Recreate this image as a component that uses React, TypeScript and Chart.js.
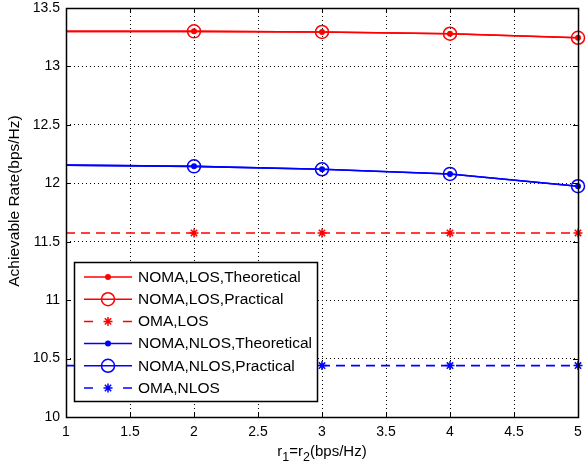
import React, { useEffect, useRef } from "react";
import { Chart, registerables } from "chart.js";
Chart.register(...registerables);

const xValues = [1, 2, 3, 4, 5];
const nomaLosTheoretical = [13.3, 13.3, 13.295, 13.28, 13.245];
const nomaLosPractical = [13.3, 13.3, 13.295, 13.28, 13.245];
const omaLos = [11.575, 11.575, 11.575, 11.575, 11.575];
const nomaNlosTheoretical = [12.155, 12.145, 12.12, 12.08, 11.975];
const nomaNlosPractical = [12.155, 12.145, 12.12, 12.08, 11.975];
const omaNlos = [10.44, 10.44, 10.44, 10.44, 10.44];
const seriesLabels = [
  "NOMA,LOS,Theoretical",
  "NOMA,LOS,Practical",
  "OMA,LOS",
  "NOMA,NLOS,Theoretical",
  "NOMA,NLOS,Practical",
  "OMA,NLOS",
];
const xTickValues = [1, 1.5, 2, 2.5, 3, 3.5, 4, 4.5, 5];
const yTickValues = [10, 10.5, 11, 11.5, 12, 12.5, 13, 13.5];
const yAxisTitle = "Achievable Rate(bps/Hz)";

const FONT = '"Liberation Sans", Arial, Helvetica, sans-serif';
const RED = "#ff0000";
const BLUE = "#0000ff";

type Kind = "dot" | "circle" | "star";
const seriesKinds: Kind[] = ["dot", "circle", "star", "dot", "circle", "star"];
const seriesColors = [RED, RED, RED, BLUE, BLUE, BLUE];
const seriesDashed = [false, false, true, false, false, true];

function drawMarker(ctx: CanvasRenderingContext2D, kind: Kind, x: number, y: number, color: string) {
  ctx.save();
  ctx.setLineDash([]);
  ctx.strokeStyle = color;
  ctx.fillStyle = color;
  if (kind === "dot") {
    ctx.beginPath();
    ctx.arc(x, y, 3, 0, Math.PI * 2);
    ctx.fill();
  } else if (kind === "circle") {
    ctx.lineWidth = 1.5;
    ctx.beginPath();
    ctx.arc(x, y, 6.5, 0, Math.PI * 2);
    ctx.stroke();
  } else {
    ctx.lineWidth = 1.5;
    const r = 4.5;
    const d = r * Math.SQRT1_2;
    ctx.beginPath();
    ctx.moveTo(x - r, y);
    ctx.lineTo(x + r, y);
    ctx.moveTo(x, y - r);
    ctx.lineTo(x, y + r);
    ctx.moveTo(x - d, y - d);
    ctx.lineTo(x + d, y + d);
    ctx.moveTo(x - d, y + d);
    ctx.lineTo(x + d, y - d);
    ctx.stroke();
  }
  ctx.restore();
}

const framePlugin = {
  id: "matlabFrame",
  afterDraw(chart: any) {
    const ctx: CanvasRenderingContext2D = chart.ctx;
    const { left, right, top, bottom } = chart.chartArea;
    const xs = chart.scales.x;
    const ys = chart.scales.y;
    ctx.save();
    ctx.setLineDash([]);
    ctx.strokeStyle = "#000";
    ctx.lineWidth = 1;
    ctx.beginPath();
    for (const v of xTickValues) {
      const px = Math.round(xs.getPixelForValue(v)) + 0.5;
      ctx.moveTo(px, bottom);
      ctx.lineTo(px, bottom - 5);
      ctx.moveTo(px, top);
      ctx.lineTo(px, top + 5);
    }
    for (const v of yTickValues) {
      const py = Math.round(ys.getPixelForValue(v)) + 0.5;
      ctx.moveTo(left, py);
      ctx.lineTo(left + 5, py);
      ctx.moveTo(right, py);
      ctx.lineTo(right - 5, py);
    }
    ctx.stroke();
    ctx.lineWidth = 1.5;
    ctx.strokeRect(Math.round(left) + 0.5, Math.round(top) + 0.5, Math.round(right - left), Math.round(bottom - top));

    // legend
    const lx = 74.5, ly = 262.5, lw = 243, lh = 139;
    ctx.fillStyle = "#fff";
    ctx.fillRect(lx, ly, lw, lh);
    ctx.lineWidth = 1.5;
    ctx.strokeStyle = "#000";
    ctx.strokeRect(lx, ly, lw, lh);
    ctx.font = `15.5px ${FONT}`;
    ctx.textBaseline = "middle";
    ctx.textAlign = "left";
    for (let i = 0; i < seriesLabels.length; i++) {
      const cy = 277 + i * 22.2;
      const color = seriesColors[i];
      ctx.strokeStyle = color;
      ctx.lineWidth = 1.5;
      ctx.beginPath();
      if (seriesDashed[i]) {
        ctx.moveTo(84, cy);
        ctx.lineTo(93, cy);
        ctx.moveTo(123, cy);
        ctx.lineTo(132, cy);
      } else {
        ctx.moveTo(84, cy);
        ctx.lineTo(132, cy);
      }
      ctx.stroke();
      drawMarker(ctx, seriesKinds[i], 108, cy, color);
      ctx.fillStyle = "#000";
      ctx.fillText(seriesLabels[i], 138, cy + 0.5);
    }

    // y title
    ctx.save();
    ctx.translate(15, 201);
    ctx.rotate(-Math.PI / 2);
    ctx.textAlign = "center";
    ctx.textBaseline = "middle";
    ctx.fillStyle = "#000";
    ctx.font = `15.5px ${FONT}`;
    ctx.fillText(yAxisTitle, 0, 0);
    ctx.restore();

    // x title with subscripts
    const parts: [string, boolean][] = [["r", false], ["1", true], ["=r", false], ["2", true], ["(bps/Hz)", false]];
    const mainFont = `15px ${FONT}`;
    const subFont = `12.5px ${FONT}`;
    let total = 0;
    for (const [t, sub] of parts) {
      ctx.font = sub ? subFont : mainFont;
      total += ctx.measureText(t).width;
    }
    let cx = (left + right) / 2 - total / 2;
    ctx.textAlign = "left";
    ctx.textBaseline = "alphabetic";
    ctx.fillStyle = "#000";
    for (const [t, sub] of parts) {
      ctx.font = sub ? subFont : mainFont;
      ctx.fillText(t, cx, sub ? 461 : 456);
      cx += ctx.measureText(t).width;
    }
    ctx.restore();
  },
};

function makeDataset(label: string, data: number[], i: number) {
  const kind = seriesKinds[i];
  const color = seriesColors[i];
  const radius = kind === "dot" ? 3 : kind === "circle" ? 6.5 : 4.5;
  return {
    label,
    data: xValues.map((x, j) => ({ x, y: data[j] })),
    borderColor: color,
    backgroundColor: kind === "dot" ? color : "rgba(0,0,0,0)",
    borderWidth: 1.6,
    borderDash: seriesDashed[i] ? [9, 6] : [],
    pointStyle: kind === "star" ? "star" : "circle",
    pointRadius: xValues.map((x) => (x === 1 ? 0 : radius)),
    pointBorderWidth: kind === "dot" ? 0 : 1.5,
    pointBorderColor: color,
    pointBackgroundColor: kind === "dot" ? color : "rgba(0,0,0,0)",
    pointHoverRadius: 0,
    tension: 0,
    fill: false,
    clip: false,
  };
}

const fmt = (v: any) => String(Number(v));

export default function App() {
  const canvasRef = useRef<HTMLCanvasElement | null>(null);
  useEffect(() => {
    document.body.style.margin = "0";
    const canvas = canvasRef.current!;
    const allSeries = [nomaLosTheoretical, nomaLosPractical, omaLos, nomaNlosTheoretical, nomaNlosPractical, omaNlos];
    const chart = new Chart(canvas, {
      type: "line",
      data: {
        datasets: allSeries.map((d, i) => makeDataset(seriesLabels[i], d, i)) as any,
      },
      options: {
        animation: false,
        responsive: false,
        devicePixelRatio: 1,
        layout: { padding: { top: 6, right: 4, left: 0, bottom: 0 } },
        plugins: { legend: { display: false }, tooltip: { enabled: false } },
        events: [],
        scales: {
          x: {
            type: "linear",
            min: 1,
            max: 5,
            afterBuildTicks: (scale: any) => {
              scale.ticks = xTickValues.map((v) => ({ value: v }));
            },
            afterFit: (scale: any) => {
              scale.height = 50;
              scale.paddingLeft = 0;
              scale.paddingRight = 0;
            },
            ticks: {
              color: "#000",
              font: { family: FONT, size: 14 },
              padding: 7,
              maxRotation: 0,
              autoSkip: false,
              callback: fmt,
            },
            grid: { color: "#000", lineWidth: 1, drawTicks: false },
            border: { display: false, dash: [1, 3] },
          },
          y: {
            type: "linear",
            min: 10,
            max: 13.5,
            afterBuildTicks: (scale: any) => {
              scale.ticks = yTickValues.map((v) => ({ value: v }));
            },
            afterFit: (scale: any) => {
              scale.width = 66;
              scale.paddingTop = 0;
              scale.paddingBottom = 0;
            },
            ticks: {
              color: "#000",
              font: { family: FONT, size: 14 },
              padding: 6,
              autoSkip: false,
              callback: fmt,
            },
            grid: { color: "#000", lineWidth: 1, drawTicks: false },
            border: { display: false, dash: [1, 3] },
          },
        },
      } as any,
      plugins: [framePlugin],
    });
    return () => chart.destroy();
  }, []);
  return (
    <div style={{ position: "absolute", left: 0, top: 0, width: 586, height: 467, background: "#fff" }}>
      <canvas ref={canvasRef} width={586} height={467} />
    </div>
  );
}
